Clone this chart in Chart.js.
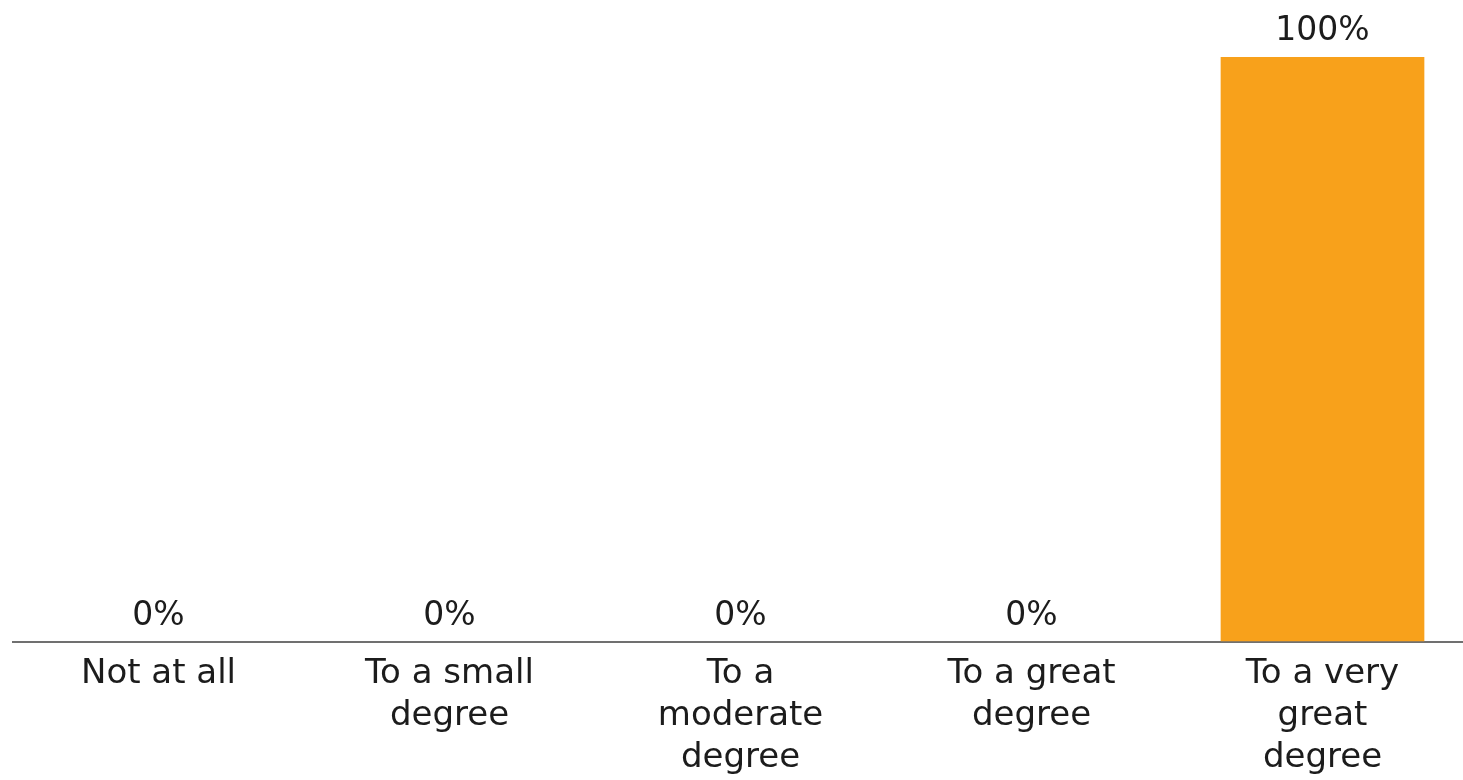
<!DOCTYPE html>
<html>
<head>
<meta charset="utf-8">
<script src="https://cdn.jsdelivr.net/npm/chart.js@4"></script>
<style>
  html, body { margin: 0; padding: 0; background: #ffffff; overflow: hidden; }
  #wrap { width: 1463px; height: 780px; position: relative; overflow: hidden; }
  #chart { position: absolute; left: 0; top: 0; }
</style>
</head>
<body>
<div id="wrap"><canvas id="chart" width="1468" height="791"></canvas></div>
<script>
// Survey responses: share of respondents per answer
const categories = [
  "Not at all",
  ["To a small", "degree"],
  ["To a", "moderate", "degree"],
  ["To a great", "degree"],
  ["To a very", "great", "degree"]
];
const values = [0, 0, 0, 0, 100];
const valueLabels = ["0%", "0%", "0%", "0%", "100%"];

const FONT = "'DejaVu Sans', 'Noto Sans', sans-serif";
const TEXT = "#1c1c1c";

// Writes the percentage above each bar
const valueLabelPlugin = {
  id: "valueLabels",
  afterDatasetsDraw(chart) {
    const ctx = chart.ctx;
    const meta = chart.getDatasetMeta(0);
    ctx.save();
    ctx.font = "33px " + FONT;
    ctx.fillStyle = TEXT;
    ctx.textAlign = "center";
    ctx.textBaseline = "alphabetic";
    meta.data.forEach((bar, i) => {
      ctx.fillText(valueLabels[i], bar.x, bar.y - 17);
    });
    ctx.restore();
  }
};

new Chart(document.getElementById("chart"), {
  type: "bar",
  data: {
    labels: categories,
    datasets: [{
      data: values,
      backgroundColor: "#F8A11B",
      borderWidth: 0,
      barPercentage: 0.7,
      categoryPercentage: 1.0
    }]
  },
  options: {
    responsive: false,
    animation: false,
    layout: { padding: { top: 57, left: 13, right: 0, bottom: 0 } },
    plugins: {
      legend: { display: false },
      tooltip: { enabled: false }
    },
    scales: {
      x: {
        grid: { display: false, drawTicks: false },
        border: { display: true, color: "#707070", width: 2 },
        ticks: {
          color: TEXT,
          padding: 12,
          maxRotation: 0,
          autoSkip: false,
          font: { family: FONT, size: 34, lineHeight: 1.23 }
        }
      },
      y: {
        display: false,
        min: 0,
        max: 100
      }
    }
  },
  plugins: [valueLabelPlugin]
});
</script>
</body>
</html>
